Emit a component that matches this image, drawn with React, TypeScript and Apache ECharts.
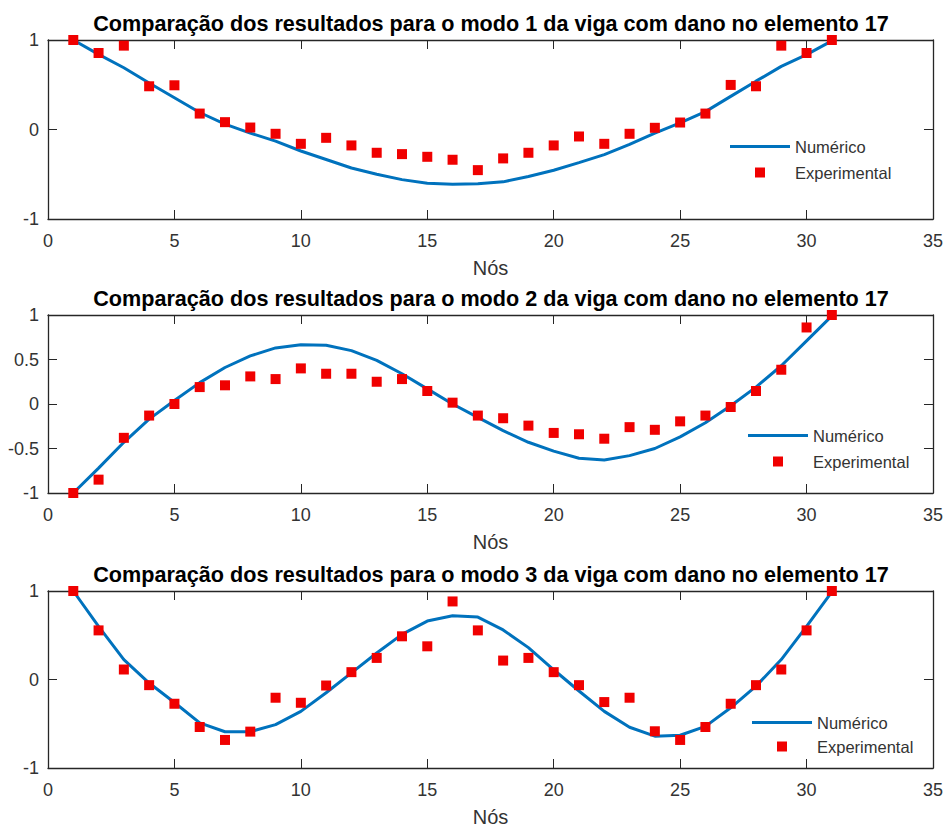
import React, { useEffect, useRef } from "react";
import * as echarts from "echarts";

const nodes = [1, 2, 3, 4, 5, 6, 7, 8, 9, 10, 11, 12, 13, 14, 15, 16, 17, 18, 19, 20, 21, 22, 23, 24, 25, 26, 27, 28, 29, 30, 31];

const numerico1 = [1.0, 0.84, 0.69, 0.52, 0.355, 0.19, 0.06, -0.04, -0.13, -0.24, -0.335, -0.43, -0.5, -0.56, -0.6, -0.612, -0.605, -0.585, -0.525, -0.455, -0.37, -0.28, -0.167, -0.04, 0.074, 0.2, 0.37, 0.54, 0.705, 0.836, 0.99];
const experimental1 = [1.0, 0.855, 0.937, 0.483, 0.494, 0.178, 0.082, 0.022, -0.048, -0.16, -0.093, -0.178, -0.26, -0.275, -0.305, -0.338, -0.454, -0.323, -0.26, -0.178, -0.078, -0.16, -0.048, 0.019, 0.078, 0.178, 0.498, 0.483, 0.937, 0.855, 1.0];

const numerico2 = [-1.0, -0.72, -0.43, -0.17, 0.04, 0.24, 0.41, 0.54, 0.63, 0.665, 0.66, 0.6, 0.49, 0.34, 0.17, 0.0, -0.15, -0.3, -0.43, -0.53, -0.61, -0.63, -0.58, -0.5, -0.37, -0.21, -0.02, 0.19, 0.43, 0.71, 0.99];
const experimental2 = [-1.0, -0.85, -0.38, -0.13, 0.0, 0.19, 0.21, 0.31, 0.28, 0.4, 0.34, 0.34, 0.25, 0.28, 0.146, 0.015, -0.13, -0.16, -0.243, -0.325, -0.34, -0.39, -0.26, -0.29, -0.195, -0.13, -0.034, 0.146, 0.385, 0.86, 1.0];

const numerico3 = [1.0, 0.6, 0.225, -0.04, -0.26, -0.49, -0.59, -0.59, -0.51, -0.36, -0.15, 0.075, 0.3, 0.51, 0.66, 0.72, 0.705, 0.56, 0.36, 0.11, -0.13, -0.36, -0.54, -0.64, -0.63, -0.53, -0.32, -0.075, 0.225, 0.6, 0.99];
const experimental3 = [1.0, 0.555, 0.113, -0.064, -0.274, -0.537, -0.683, -0.589, -0.206, -0.263, -0.068, 0.083, 0.244, 0.488, 0.375, 0.882, 0.555, 0.214, 0.244, 0.083, -0.064, -0.255, -0.206, -0.585, -0.683, -0.537, -0.274, -0.064, 0.113, 0.555, 1.0];

const titles = [
  "Comparação dos resultados para o modo 1 da viga com dano no elemento 17",
  "Comparação dos resultados para o modo 2 da viga com dano no elemento 17",
  "Comparação dos resultados para o modo 3 da viga com dano no elemento 17",
];
const xAxisName = "Nós";
const seriesNames = ["Numérico", "Experimental"];
const yIntervals = [1, 0.5, 1];

const FONT = "'Liberation Sans', Arial, Helvetica, sans-serif";
const AXIS_COLOR = "#262626";
const LABEL_COLOR = "#333333";
const LINE_COLOR = "#0072BD";
const MARKER_COLOR = "#F00000";

export default function App() {
  const ref = useRef<HTMLDivElement>(null);

  useEffect(() => {
    if (!ref.current) return;
    const chart = echarts.init(ref.current, null, { renderer: "svg" });

    const numericos = [numerico1, numerico2, numerico3];
    const experimentais = [experimental1, experimental2, experimental3];
    const grids = [
      { left: 48, right: 12, top: 40, height: 179 },
      { left: 48, right: 12, top: 315, height: 178 },
      { left: 48, right: 12, top: 591, height: 177 },
    ];
    const legendPos = [
      { left: 730, top: 138, gap: 9 },
      { left: 748, top: 427, gap: 9 },
      { left: 752, top: 714, gap: 7 },
    ];

    const xAxes: any[] = [];
    const yAxes: any[] = [];
    const series: any[] = [];
    const legends: any[] = [];
    const titleArr: any[] = [];

    grids.forEach((g, i) => {
      const tickStyle = { show: true, inside: true, length: 9, lineStyle: { color: AXIS_COLOR, width: 1 } };
      const lineStyle = { show: true, onZero: false, lineStyle: { color: AXIS_COLOR, width: 1.3 } };
      xAxes.push({
        type: "value",
        gridIndex: i,
        position: "bottom",
        min: 0,
        max: 35,
        interval: 5,
        axisLine: lineStyle,
        axisTick: tickStyle,
        splitLine: { show: false },
        axisLabel: { color: LABEL_COLOR, fontSize: 18, fontFamily: FONT, margin: 13 },
        name: xAxisName,
        nameLocation: "middle",
        nameGap: 39,
        nameTextStyle: { color: LABEL_COLOR, fontSize: 20, fontFamily: FONT },
      });
      xAxes.push({
        type: "value",
        gridIndex: i,
        position: "top",
        min: 0,
        max: 35,
        interval: 5,
        axisLine: lineStyle,
        axisTick: tickStyle,
        splitLine: { show: false },
        axisLabel: { show: false },
      });
      yAxes.push({
        type: "value",
        gridIndex: i,
        position: "left",
        min: -1,
        max: 1,
        interval: yIntervals[i],
        axisLine: lineStyle,
        axisTick: tickStyle,
        splitLine: { show: false },
        axisLabel: { color: LABEL_COLOR, fontSize: 18, fontFamily: FONT, margin: 9 },
      });
      yAxes.push({
        type: "value",
        gridIndex: i,
        position: "right",
        min: -1,
        max: 1,
        interval: yIntervals[i],
        axisLine: lineStyle,
        axisTick: tickStyle,
        splitLine: { show: false },
        axisLabel: { show: false },
      });
      series.push({
        name: seriesNames[0],
        type: "line",
        xAxisIndex: i * 2,
        yAxisIndex: i * 2,
        data: nodes.map((n, k) => [n, numericos[i][k]]),
        showSymbol: false,
        symbol: "none",
        lineStyle: { color: LINE_COLOR, width: 3 },
        itemStyle: { color: LINE_COLOR },
        z: 2,
      });
      series.push({
        name: seriesNames[1],
        type: "scatter",
        xAxisIndex: i * 2,
        yAxisIndex: i * 2,
        data: nodes.map((n, k) => [n, experimentais[i][k]]),
        symbol: "rect",
        symbolSize: 10,
        itemStyle: { color: MARKER_COLOR, opacity: 1 },
        z: 3,
      });
      legends.push({
        data: [
          { name: seriesNames[0], icon: "path://M0,0h60v3h-60z", itemStyle: { color: LINE_COLOR } },
          { name: seriesNames[1], icon: "path://M0,0h10v10h-10z", itemStyle: { color: MARKER_COLOR } },
        ],
        orient: "vertical",
        left: legendPos[i].left,
        top: legendPos[i].top,
        padding: 0,
        itemWidth: 60,
        itemHeight: 10,
        itemGap: legendPos[i].gap,
        symbolKeepAspect: true,
        selectedMode: false,
        textStyle: { color: LABEL_COLOR, fontSize: 16.5, fontFamily: FONT },
      });
      titleArr.push({
        text: titles[i],
        left: 491,
        top: g.top - 28,
        textAlign: "center",
        padding: 0,
        textStyle: { color: "#000", fontSize: 21.6, fontWeight: "bold", fontFamily: FONT },
      });
    });

    chart.setOption({
      animation: false,
      backgroundColor: "#fff",
      title: titleArr,
      grid: grids,
      xAxis: xAxes,
      yAxis: yAxes,
      legend: legends,
      series,
    });

    return () => chart.dispose();
  }, []);

  return (
    <div
      ref={ref}
      style={{ position: "fixed", left: 0, top: 0, width: 946, height: 828, background: "#fff" }}
    />
  );
}
